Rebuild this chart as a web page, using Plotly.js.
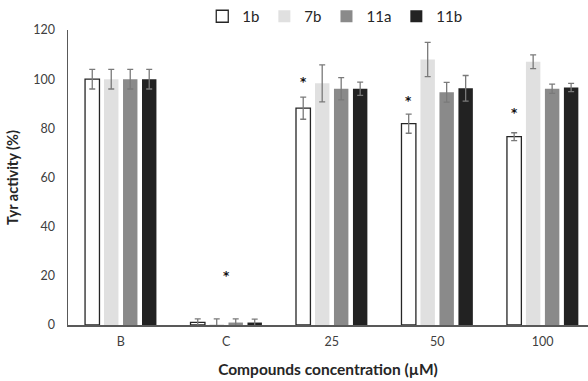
<!DOCTYPE html>
<html><head><meta charset="utf-8">
<script src="https://cdn.plot.ly/plotly-3.0.1.min.js"></script>
<style>html,body{margin:0;padding:0;background:#fff}</style>
</head><body>
<div id="chart" style="width:588px;height:381px"></div>
<script>
var categories = ['B', 'C', '25', '50', '100'];
var seriesNames = ['1b', '7b', '11a', '11b'];
var v1b  = [100, 1.1, 88.2, 81.9, 76.6];
var v7b  = [100, 0.3, 98.3, 108.0, 107.1];
var v11a = [100, 1.0, 96.1, 94.7, 96.1];
var v11b = [100, 1.0, 96.1, 96.3, 96.6];
var e1b  = [4, 1.4, 4.5, 3.9, 1.6];
var e7b  = [4, 2.2, 7.5, 7.0, 2.8];
var e11a = [4, 1.5, 4.5, 4.0, 1.9];
var e11b = [4, 1.4, 2.7, 5.2, 1.7];
// significance stars: y value, and whether it refers to the 1b bar (true) or whole group (false)
var starY = [null, 21, 100, 92.3, 87.3];
var starOn1b = [false, false, true, true, true];

var values = [v1b, v7b, v11a, v11b];
var errors = [e1b, e7b, e11a, e11b];
var fills = ['#ffffff', '#e0e0e0', '#8a8a8a', '#222222'];
var lines = ['#262626', '#e0e0e0', '#8a8a8a', '#222222'];
var lineW = [1.3, 0, 0, 0];

var traces = seriesNames.map(function (n, i) {
  return {
    type: 'bar', name: n, x: categories, y: values[i],
    marker: {color: fills[i], line: {color: lines[i], width: lineW[i]}},
    error_y: {type: 'data', array: errors[i], visible: true, color: '#7a7a7a', thickness: 1.3, width: 3}
  };
});

var annotations = [];
categories.forEach(function (c, i) {
  if (starY[i] === null) return;
  annotations.push({
    x: i, y: starY[i], xref: 'x', yref: 'y', text: '<b>*</b>', showarrow: false,
    xshift: starOn1b[i] ? -28.6 : 0, yshift: -3,
    font: {family: 'DejaVu Sans, sans-serif', size: 12, color: '#111111'}
  });
});

var layout = {
  width: 588, height: 381,
  margin: {l: 68, r: 0, t: 29, b: 55.7, pad: 0},
  paper_bgcolor: '#fff', plot_bgcolor: '#fff',
  font: {family: 'Lato, sans-serif', size: 12, color: '#595959'},
  barmode: 'group', bargap: 0.28, bargroupgap: 0.24,
  showlegend: true,
  legend: {orientation: 'h', x: 0.513, xanchor: 'center', y: 1.047, yanchor: 'middle',
           font: {family: 'Lato, sans-serif', size: 15, color: '#262626'}, traceorder: 'normal',
           itemwidth: 30},
  xaxis: {
    type: 'category', range: [-0.5, 4.43], showline: true, linecolor: '#595959', linewidth: 1.5,
    ticks: '', showgrid: false, zeroline: false, ticklabelstandoff: 4,
    tickfont: {family: 'Lato, sans-serif', size: 12.5, color: '#404040'},
    title: {text: '<b>Compounds concentration (µM)</b>', standoff: 16,
            font: {family: 'Lato, sans-serif', size: 15.5, color: '#262626'}}
  },
  yaxis: {
    range: [0, 120], dtick: 20, showline: true, linecolor: '#595959', linewidth: 1.5,
    ticks: '', showgrid: false, zeroline: false, ticklabelstandoff: 9,
    tickfont: {family: 'Lato, sans-serif', size: 12.5, color: '#404040'},
    title: {text: '<b>Tyr activity (%)</b>', standoff: 11,
            font: {family: 'Lato, sans-serif', size: 14.5, color: '#262626'}}
  },
  annotations: annotations
};

Plotly.newPlot('chart', traces, layout, {displayModeBar: false, staticPlot: true});
</script>
</body></html>
